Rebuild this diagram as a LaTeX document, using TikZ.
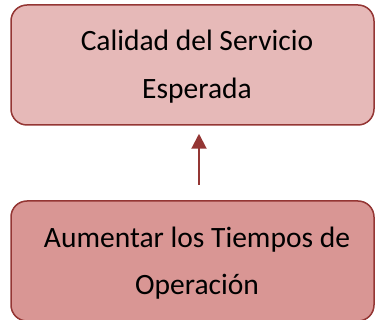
\documentclass[tikz,border=0pt]{standalone}
\usepackage{fontspec}
\setmainfont{Carlito}
\usetikzlibrary{arrows.meta}
\definecolor{bordercol}{HTML}{943634}
\definecolor{topfill}{HTML}{E6B9B8}
\definecolor{botfill}{HTML}{D99694}
\tikzset{
  box/.style={draw=bordercol, line width=1.5pt, rounded corners=16pt, minimum width=363pt, minimum height=120pt, inner sep=0pt},
  lbl/.style={align=center, font=\fontsize{29.5}{47.5}\selectfont, inner sep=0pt, anchor=base},
  conn/.style={draw=bordercol, line width=2pt, -{Triangle[length=15pt,width=15pt]}}
}
\begin{document}
\begin{tikzpicture}[x=1pt,y=-1pt]
\useasboundingbox (0,0) rectangle (375,320);
\clip (0,0) rectangle (375,320);
\node[box, fill=topfill] (top) at (192.5,65) {};
\node[box, fill=botfill] (bot) at (192.5,261) {};
\node[lbl] (toptext) at (197,98.3) {Calidad del Servicio\\Esperada};
\node[lbl] (bottext) at (197,295) {Aumentar los Tiempos de\\Operación};
\coordinate (tail) at (199,185);
\draw[conn, shorten >=8pt] (tail) -- (tail |- top.south);
\end{tikzpicture}
\end{document}
